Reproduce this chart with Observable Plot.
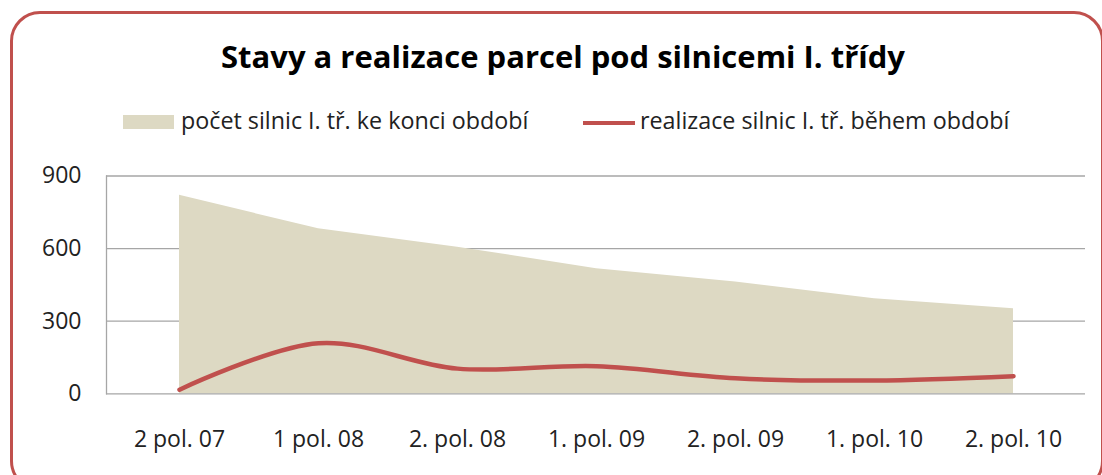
<!DOCTYPE html>
<html>
<head>
<meta charset="utf-8">
<script src="https://cdn.jsdelivr.net/npm/d3@7"></script>
<script src="https://cdn.jsdelivr.net/npm/@observablehq/plot@0.6"></script>
<style>
  html, body { margin: 0; padding: 0; background: #fff; }
  #wrap { position: relative; width: 1102px; height: 475px; overflow: hidden; background: #fff; font-family: "Open Sans", Lato, sans-serif; }
  #frame { position: absolute; left: 10px; top: 11px; width: 1094px; height: 480px; border: 3.5px solid #c0504d; border-radius: 30px; box-sizing: border-box; }
  #title { position: absolute; left: 0; width: 1126px; top: 35px; text-align: center; font-size: 31px; font-weight: 700; color: #000; }
  .leg { position: absolute; top: 104px; font-size: 23.3px; color: #222; white-space: nowrap; }
  .sw { position: absolute; }
  #chart { position: absolute; left: 0; top: 150px; }
</style>
</head>
<body>
<div id="wrap">
  <div id="frame"></div>
  <div id="title">Stavy a realizace parcel pod silnicemi I. třídy</div>
  <div class="sw" style="left:123px; top:115px; width:51px; height:14px; background:#ddd9c3;"></div>
  <div class="leg" style="left:181px;">počet silnic I. tř. ke konci období</div>
  <div class="sw" style="left:583px; top:121px; width:52px; height:4px; background:#c0504d;"></div>
  <div class="leg" style="left:640px;">realizace silnic I. tř. během období</div>
  <div id="chart"></div>
</div>
<script>
const periods = ["2 pol. 07", "1 pol. 08", "2. pol. 08", "1. pol. 09", "2. pol. 09", "1. pol. 10", "2. pol. 10"];
const stockValues = [820, 682, 606, 517, 462, 393, 351];
const realizedValues = [17, 209, 104, 114, 64, 55, 73];
const yTicks = [0, 300, 600, 900];

const data = periods.map((p, i) => ({period: p, stock: stockValues[i], realized: realizedValues[i]}));

const chart = Plot.plot({
  width: 1102,
  height: 320,
  marginLeft: 106,
  marginRight: 17,
  marginTop: 25.5,
  marginBottom: 76.7,
  style: {fontFamily: "'Open Sans', Lato, sans-serif", fontSize: "23px", color: "#222", background: "transparent"},
  x: {type: "point", domain: periods, padding: 0.5},
  y: {domain: [0, 900]},
  marks: [
    Plot.ruleY(yTicks.filter(d => d > 0), {stroke: "#a6a6a6", strokeWidth: 1.3, strokeOpacity: 1}),
    Plot.areaY(data, {x: "period", y: "stock", fill: "#ddd9c3"}),
    Plot.frame({anchor: "left", stroke: "#a6a6a6", strokeWidth: 1.3}),
    Plot.ruleY([0], {stroke: "#a6a6a6", strokeWidth: 1.3}),
    Plot.lineY(data, {x: "period", y: "realized", stroke: "#c0504d", strokeWidth: 4.5, curve: "catmull-rom", strokeLinecap: "round"}),
    Plot.axisY({ticks: yTicks, tickSize: 0, tickPadding: 25, label: null, fontSize: 23}),
    Plot.axisX({tickSize: 0, tickPadding: 37, label: null, fontSize: 23})
  ]
});
document.getElementById("chart").appendChild(chart);
</script>
</body>
</html>
